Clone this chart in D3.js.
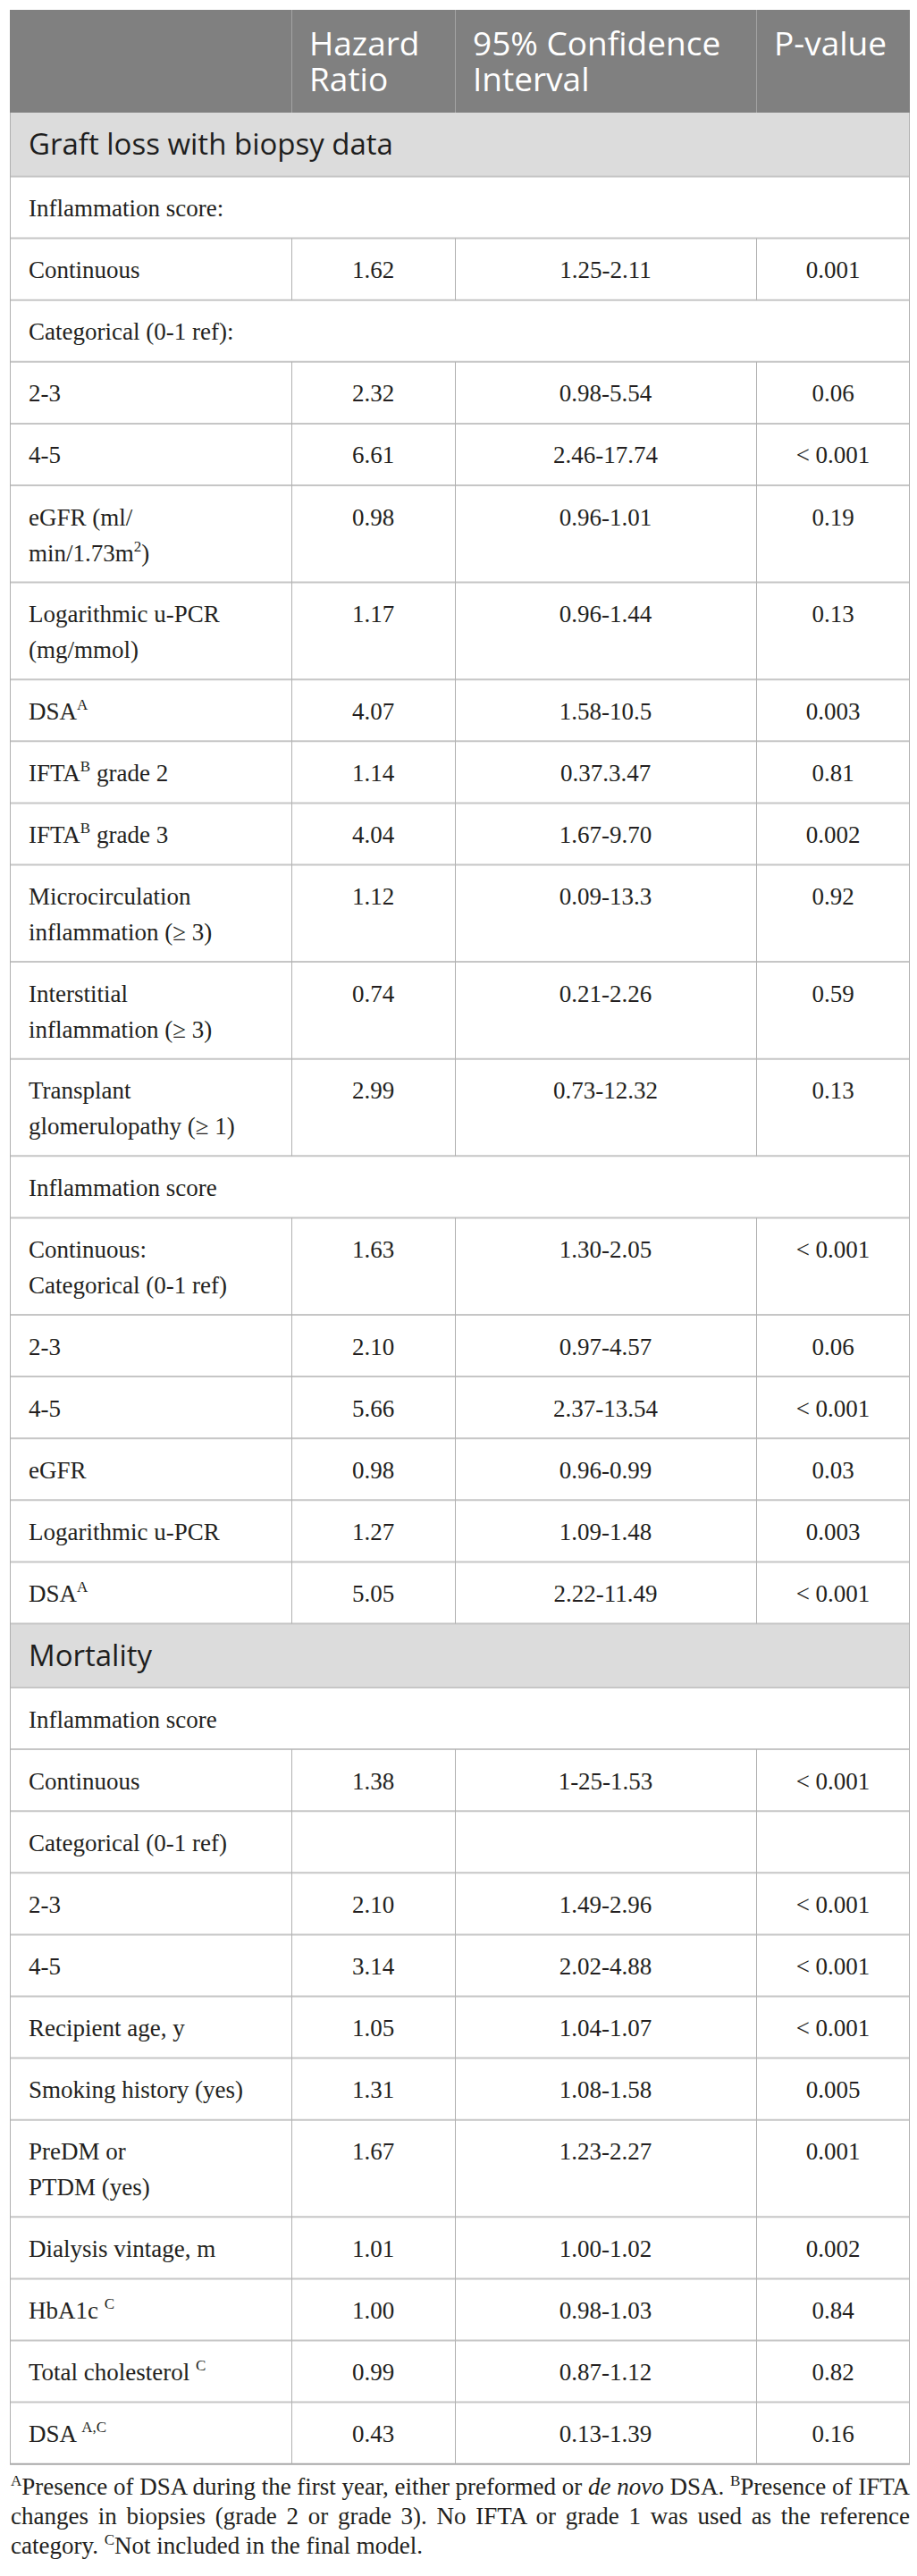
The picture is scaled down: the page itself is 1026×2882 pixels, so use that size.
<!DOCTYPE html>
<html lang="en">
<head>
    <meta charset="UTF-8">
    <title>Hazard ratios: graft loss and mortality</title>
    <style>
        body { margin: 0; background: #fff; }
    </style>
</head>
<body>
    <div id="wrap"></div>

    <script src="https://d3js.org/d3.v7.min.js"></script>
    <script>
        // Column headers (one entry per column, lines split)
        const headerLines = [[], ["Hazard", "Ratio"], ["95% Confidence", "Interval"], ["P-value"]];

        // Row kinds: section = grey band, group = full-width label, data = 4 cells
        const rowKind = [
            "section", "group", "data", "group", "data", "data", "data", "data", "data", "data",
            "data", "data", "data", "data", "group", "data", "data", "data", "data", "data", "data",
            "section", "group", "data", "data", "data", "data", "data", "data", "data", "data",
            "data", "data", "data"
        ];

        // Row labels ("\n" = line break, {x} = superscript)
        const rowLabels = [
            "Graft loss with biopsy data", "Inflammation score:", "Continuous", "Categorical (0-1 ref):",
            "2-3", "4-5", "eGFR (ml/\nmin/1.73m{2})", "Logarithmic u-PCR\n(mg/mmol)", "DSA{A}",
            "IFTA{B} grade 2", "IFTA{B} grade 3", "Microcirculation\ninflammation (≥ 3)",
            "Interstitial\ninflammation (≥ 3)", "Transplant\nglomerulopathy (≥ 1)", "Inflammation score",
            "Continuous:\nCategorical (0-1 ref)", "2-3", "4-5", "eGFR", "Logarithmic u-PCR", "DSA{A}",
            "Mortality", "Inflammation score", "Continuous", "Categorical (0-1 ref)", "2-3", "4-5",
            "Recipient age, y", "Smoking history (yes)", "PreDM or\nPTDM (yes)", "Dialysis vintage, m",
            "HbA1c {C}", "Total cholesterol {C}", "DSA {A,C}"
        ];

        const hazardRatio = [
            "", "", "1.62", "", "2.32", "6.61", "0.98", "1.17", "4.07", "1.14", "4.04", "1.12", "0.74", "2.99",
            "", "1.63", "2.10", "5.66", "0.98", "1.27", "5.05",
            "", "", "1.38", "", "2.10", "3.14", "1.05", "1.31", "1.67", "1.01", "1.00", "0.99", "0.43"
        ];

        const confInterval = [
            "", "", "1.25-2.11", "", "0.98-5.54", "2.46-17.74", "0.96-1.01", "0.96-1.44", "1.58-10.5",
            "0.37.3.47", "1.67-9.70", "0.09-13.3", "0.21-2.26", "0.73-12.32",
            "", "1.30-2.05", "0.97-4.57", "2.37-13.54", "0.96-0.99", "1.09-1.48", "2.22-11.49",
            "", "", "1-25-1.53", "", "1.49-2.96", "2.02-4.88", "1.04-1.07", "1.08-1.58", "1.23-2.27",
            "1.00-1.02", "0.98-1.03", "0.87-1.12", "0.13-1.39"
        ];

        const pValue = [
            "", "", "0.001", "", "0.06", "< 0.001", "0.19", "0.13", "0.003", "0.81", "0.002", "0.92", "0.59", "0.13",
            "", "< 0.001", "0.06", "< 0.001", "0.03", "0.003", "< 0.001",
            "", "", "< 0.001", "", "< 0.001", "< 0.001", "< 0.001", "0.005", "0.001", "0.002", "0.84", "0.82", "0.16"
        ];

        // Footnote lines, as [style, text] segments
        const footnoteLines = [
            [["sup", "A"], ["", "Presence of DSA during the first year, either preformed or "], ["i", "de novo"],
             ["", " DSA. "], ["sup", "B"], ["", "Presence of IFTA"]],
            [["", "changes in biopsies (grade 2 or grade 3). No IFTA or grade 1 was used as the reference"]],
            [["", "category. "], ["sup", "C"], ["", "Not included in the final model."]]
        ];

        // Layout
        const W = 1026, H = 2882;
        const colEdges = [11, 326, 509, 846, 1018];
        const tableTop = 11, headerH = 115, sectionH = 71.5;
        const cellPad = 14.8, lineH = 39.5, textLineH = 40;
        const serif = "'Liberation Serif', 'Times New Roman', serif";
        const sans = "'Open Sans', 'Noto Sans', sans-serif";
        const ink = "#231f20";

        const rowLines = rowLabels.map(l => l.split("\n"));
        const rowH = rowKind.map((k, i) => k === "section" ? sectionH : cellPad * 2 + lineH * rowLines[i].length);
        const rowStart = [0, ...d3.cumsum(rowH)];
        const bodyTop = tableTop + headerH;
        const total = d3.sum(rowH);
        const y = d3.scaleLinear().domain([0, total]).range([bodyTop, bodyTop + total]);
        const col = d3.scaleOrdinal().domain(d3.range(colEdges.length)).range(colEdges);
        const colMid = c => (col(c) + col(c + 1)) / 2;

        const rows = rowKind.map((k, i) => ({
            kind: k, lines: rowLines[i], hr: hazardRatio[i], ci: confInterval[i], p: pValue[i],
            y0: y(rowStart[i]), y1: y(rowStart[i + 1])
        }));

        const svg = d3.select("#wrap").append("svg").attr("width", W).attr("height", H)
            .style("display", "block");

        // header band
        svg.append("rect")
            .attr("x", col(0)).attr("y", tableTop)
            .attr("width", col(4) - col(0)).attr("height", headerH)
            .attr("fill", "#808080");
        svg.selectAll(".hsep").data([1, 2, 3]).join("line")
            .attr("x1", c => col(c) + 0.5).attr("x2", c => col(c) + 0.5)
            .attr("y1", tableTop).attr("y2", bodyTop)
            .attr("stroke", "#a3a3a3").attr("stroke-width", 1);

        // one text per header cell, lines as tspans
        svg.selectAll(".htext").data(headerLines.filter(l => l.length).map((l, k) => ({ c: k + 1, lines: l })))
            .join("text")
            .attr("x", d => col(d.c) + 20)
            .attr("y", tableTop + 51)
            .attr("font-family", sans).attr("font-size", 37)
            .attr("fill", "#fff")
            .each(function (d) {
                d3.select(this).selectAll("tspan").data(d.lines).join("tspan")
                    .attr("x", col(d.c) + 20)
                    .attr("dy", (t, j) => j ? textLineH : 0)
                    .text(t => t);
            });

        // section bands
        svg.selectAll(".sec").data(rows.filter(r => r.kind === "section")).join("rect")
            .attr("x", col(0)).attr("y", r => r.y0)
            .attr("width", col(4) - col(0)).attr("height", r => r.y1 - r.y0)
            .attr("fill", "#dcdcdc");

        // horizontal rules under every row
        svg.selectAll(".hrule").data(rows).join("line")
            .attr("x1", col(0)).attr("x2", col(4))
            .attr("y1", r => r.y1).attr("y2", r => r.y1)
            .attr("stroke", (r, i) => i === rows.length - 1 ? "#a8a8a8" : "#c6c6c6")
            .attr("stroke-width", 2);

        // outer verticals of the body
        svg.selectAll(".outer").data([0, 4]).join("line")
            .attr("x1", c => col(c) + (c ? -0.5 : 0.5)).attr("x2", c => col(c) + (c ? -0.5 : 0.5))
            .attr("y1", bodyTop).attr("y2", y(total))
            .attr("stroke", "#b0b0b0").attr("stroke-width", 1);

        // inner verticals for data rows
        const dataRows = rows.filter(r => r.kind === "data");
        [1, 2, 3].forEach(c => {
            svg.selectAll(null).data(dataRows).join("line")
                .attr("x1", col(c) + 0.5).attr("x2", col(c) + 0.5)
                .attr("y1", r => r.y0).attr("y2", r => r.y1)
                .attr("stroke", "#b0b0b0").attr("stroke-width", 1);
        });

        // labels
        function segments(line) {
            const out = [];
            const re = /([^{]+)|\{([^}]*)\}/g;
            let m;
            while ((m = re.exec(line))) out.push(m[1] !== undefined ? { t: m[1], sup: false } : { t: m[2], sup: true });
            return out;
        }

        rows.forEach(r => {
            if (r.kind === "section") {
                svg.append("text")
                    .attr("x", col(0) + 21).attr("y", r.y0 + 47)
                    .attr("font-family", sans).attr("font-size", 33)
                    .attr("fill", "#1e1e1e")
                    .text(r.lines[0]);
                return;
            }
            const t = svg.append("text")
                .attr("x", col(0) + 21).attr("y", r.y0 + 44.5)
                .attr("font-family", serif).attr("font-size", 27)
                .attr("fill", ink)
                .style("white-space", "pre");
            r.lines.forEach((line, j) => {
                let raised = false;
                segments(line).forEach((s, k) => {
                    const ts = t.append("tspan").text(s.t);
                    let dy = 0;
                    if (k === 0) { ts.attr("x", col(0) + 21); dy += j ? textLineH : 0; }
                    if (s.sup) { ts.attr("font-size", 17); dy -= 11; raised = true; }
                    else if (raised) { dy += 11; raised = false; }
                    if (dy) ts.attr("dy", dy);
                });
                if (raised) t.append("tspan").attr("dy", 11).text("");
            });
            if (r.kind === "data") {
                [[1, r.hr], [2, r.ci], [3, r.p]].forEach(([c, v]) => {
                    svg.append("text")
                        .attr("x", colMid(c)).attr("y", r.y0 + 44.5)
                        .attr("text-anchor", "middle")
                        .attr("font-family", serif).attr("font-size", 27)
                        .attr("fill", ink)
                        .text(v);
                });
            }
        });

        // footnote: justified lines (word-spacing stretched to the table width)
        const footX = 12, footW = col(4) - footX, footLead = 32.7;
        footnoteLines.forEach((segs, i) => {
            const t = svg.append("text")
                .attr("x", footX).attr("y", y(total) + 34.6 + i * footLead)
                .attr("font-family", serif).attr("font-size", 27)
                .attr("fill", ink)
                .style("white-space", "pre");
            let raised = false;
            segs.forEach(([kind, txt]) => {
                const ts = t.append("tspan").text(txt);
                if (kind === "sup") { ts.attr("font-size", 17).attr("dy", -10); raised = true; }
                else {
                    if (raised) { ts.attr("dy", 10); raised = false; }
                    if (kind === "i") ts.attr("font-style", "italic");
                }
            });
            if (i < footnoteLines.length - 1) {
                const natural = t.node().getComputedTextLength();
                const gaps = (t.text().match(/ /g) || []).length;
                if (gaps) t.style("word-spacing", ((footW - natural) / gaps) + "px");
            }
        });
    </script>
</body>
</html>
